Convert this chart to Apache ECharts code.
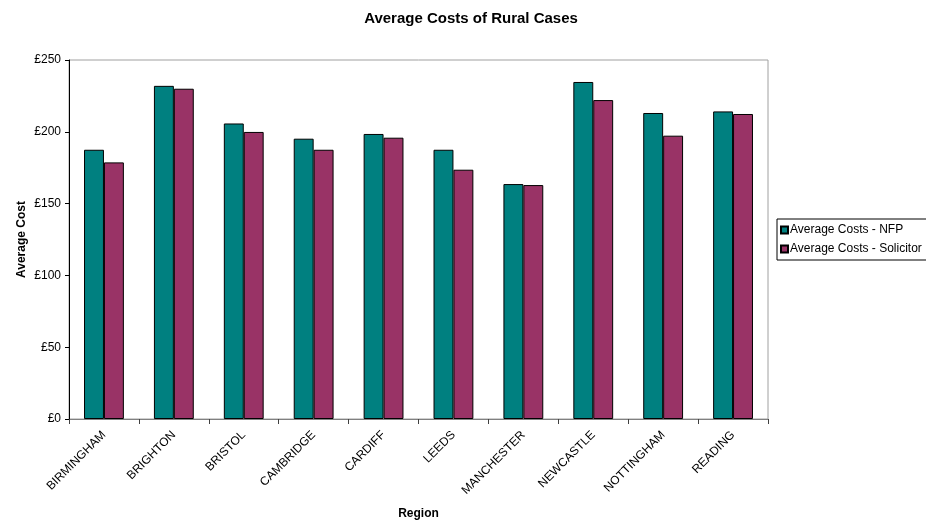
<!DOCTYPE html>
<html><head><meta charset="utf-8">
<script src="https://cdn.jsdelivr.net/npm/echarts@6/dist/echarts.min.js"></script>
<style>html,body{margin:0;padding:0;background:#fff}#c{width:926px;height:522px}</style>
</head><body><div id="c"></div>
<script>
const categories = ['BIRMINGHAM','BRIGHTON','BRISTOL','CAMBRIDGE','CARDIFF','LEEDS','MANCHESTER','NEWCASTLE','NOTTINGHAM','READING'];
const nfp = [187.5, 232, 205.8, 195.2, 198.5, 187.5, 163.6, 234.7, 213.1, 214.2];
const solicitor = [178.7, 230, 199.9, 187.5, 195.9, 173.6, 162.9, 222.1, 197.3, 212.4];
const seriesNames = ['Average Costs - NFP', 'Average Costs - Solicitor'];
const font = 'Liberation Sans, Arial, sans-serif';
const chart = echarts.init(document.getElementById('c'));
chart.setOption({
  animation: false,
  textStyle: {fontFamily: font},
  title: {text: 'Average Costs of Rural Cases', left: 466, top: 6, textAlign: 'center',
    textStyle: {fontSize: 15, fontWeight: 'bold', color: '#000', fontFamily: font}},
  legend: {
    data: seriesNames, orient: 'vertical', left: 777, top: 219,
    icon: 'rect', itemWidth: 7, itemHeight: 7, itemGap: 7,
    borderColor: '#000', borderWidth: 1, padding: [5, 40, 5, 3],
    textStyle: {fontSize: 12, color: '#000', fontFamily: font, padding: [0,0,0,-3]}
  },
  grid: {left: 69, top: 60, width: 699, height: 359, show: true, borderColor: '#a0a0a0', borderWidth: 1, backgroundColor: '#fff', outerBoundsMode: 'none', containLabel: false},
  xAxis: {
    type: 'category', data: categories,
    name: 'Region', nameLocation: 'middle', nameGap: 89, nameMoveOverlap: false,
    nameTextStyle: {fontSize: 12, fontWeight: 'bold', color: '#000', fontFamily: font},
    axisLine: {lineStyle: {color: '#808080'}},
    axisTick: {show: true, length: 5, lineStyle: {color: '#404040'}},
    axisLabel: {rotate: 45, fontSize: 12, color: '#000', margin: 14, fontFamily: font}
  },
  yAxis: {
    type: 'value', min: 0, max: 250, interval: 50,
    name: 'Average Cost', nameLocation: 'middle', nameGap: 41, nameRotate: 90, nameMoveOverlap: false,
    nameTextStyle: {fontSize: 12, fontWeight: 'bold', color: '#000', fontFamily: font},
    axisLine: {show: true, lineStyle: {color: '#000'}},
    axisTick: {show: true, length: 4, lineStyle: {color: '#000'}},
    splitLine: {show: false},
    axisLabel: {formatter: v => '£' + v, fontSize: 12, color: '#000', margin: 8, fontFamily: font}
  },
  series: [
    {name: seriesNames[0], type: 'bar', data: nfp, barGap: '0%', barCategoryGap: '43%',
     itemStyle: {color: '#008080', borderColor: '#000', borderWidth: 1}},
    {name: seriesNames[1], type: 'bar', data: solicitor,
     itemStyle: {color: '#993366', borderColor: '#000', borderWidth: 1}}
  ]
});
</script></body></html>
